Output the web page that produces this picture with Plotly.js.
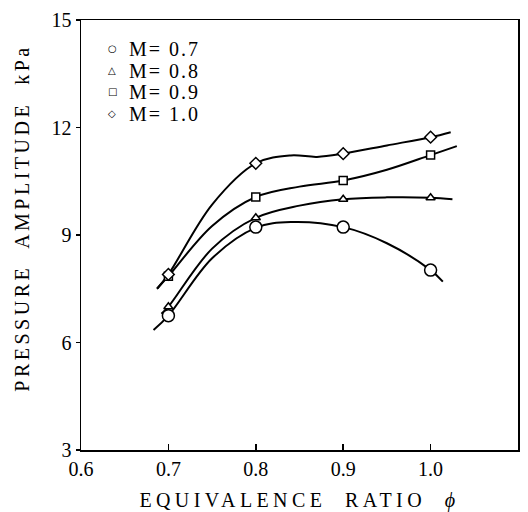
<!DOCTYPE html>
<html>
<head>
<meta charset="utf-8">
<script src="https://cdn.plot.ly/plotly-3.0.1.min.js"></script>
<style>html,body{margin:0;padding:0;background:#fff}#chart{width:528px;height:512px}</style>
</head>
<body>
<div id="chart"></div>
<script>
// Measured points
const phi = [0.7, 0.8, 0.9, 1.0];
const ampM07 = [6.75, 9.22, 9.22, 8.02];
const ampM08 = [7.0, 9.48, 10.0, 10.04];
const ampM09 = [7.85, 10.06, 10.52, 11.23];
const ampM10 = [7.9, 11.0, 11.27, 11.73];
const seriesNames = ['M= 0.7', 'M= 0.8', 'M= 0.9', 'M= 1.0'];
const legendGlyphs = ['○', '△', '□', '◇'];

// Hand-drawn fitted curves
const curvePhiM07 = [0.683, 0.7, 0.75, 0.8, 0.84, 0.9, 0.95, 1.0, 1.014];
const curveAmpM07 = [6.35, 6.75, 8.35, 9.2, 9.36, 9.22, 8.77, 8.02, 7.7];
const curvePhiM08 = [0.692, 0.7, 0.75, 0.8, 0.85, 0.9, 0.95, 1.0, 1.025];
const curveAmpM08 = [6.8, 7.0, 8.62, 9.48, 9.82, 10.0, 10.05, 10.04, 10.0];
const curvePhiM09 = [0.687, 0.7, 0.75, 0.8, 0.85, 0.9, 0.95, 1.0, 1.03];
const curveAmpM09 = [7.5, 7.85, 9.25, 10.06, 10.35, 10.52, 10.82, 11.23, 11.48];
const curvePhiM10 = [0.687, 0.7, 0.75, 0.8, 0.84, 0.87, 0.9, 0.95, 1.0, 1.023];
const curveAmpM10 = [7.5, 7.9, 9.85, 11.0, 11.22, 11.18, 11.27, 11.5, 11.73, 11.87];

const xTicks = [0.6, 0.7, 0.8, 0.9, 1.0, 1.1];
const xTickText = ['0.6', '0.7', '0.8', '0.9', '1.0', '1.1'];
const yTicks = [3, 6, 9, 12, 15];

const curves = [
  [curvePhiM07, curveAmpM07], [curvePhiM08, curveAmpM08],
  [curvePhiM09, curveAmpM09], [curvePhiM10, curveAmpM10]
];
const pts = [ampM07, ampM08, ampM09, ampM10];
const symbols = ['circle', 'triangle-up', 'square', 'diamond'];
const sizes = [12, 8, 8, 9];

const traces = [];
curves.forEach(function (c) {
  traces.push({
    x: c[0], y: c[1], mode: 'lines', type: 'scatter', showlegend: false,
    line: {color: '#000', width: 2, shape: 'spline', smoothing: 1.0},
    hoverinfo: 'skip'
  });
});
pts.forEach(function (p, i) {
  traces.push({
    x: phi, y: p, mode: 'markers', type: 'scatter', name: seriesNames[i], showlegend: false,
    marker: {symbol: symbols[i], size: sizes[i], color: '#fff', line: {color: '#000', width: 1.5}}
  });
});

const serif = '"Liberation Serif", "DejaVu Serif", serif';
const font = {family: serif, color: '#000'};

// Legend drawn as text rows
const legendRowsY = [0.9326, 0.8814, 0.8326, 0.7814];
const annotations = [];
seriesNames.forEach(function (n, i) {
  annotations.push({
    xref: 'paper', yref: 'paper', x: 0.071, y: legendRowsY[i], xanchor: 'center', yanchor: 'middle',
    text: legendGlyphs[i], showarrow: false,
    font: {family: '"DejaVu Sans", sans-serif', size: 10, color: '#000'}
  });
  annotations.push({
    xref: 'paper', yref: 'paper', x: 0.105, y: legendRowsY[i], xanchor: 'left', yanchor: 'middle',
    text: '<span style="letter-spacing:2px">' + n + '</span>', showarrow: false,
    font: Object.assign({}, font, {size: 20})
  });
});

const layout = {
  width: 528, height: 512,
  margin: {l: 81, r: 10, t: 20, b: 62},
  paper_bgcolor: '#fff', plot_bgcolor: '#fff',
  showlegend: false,
  annotations: annotations,
  xaxis: {
    range: [0.6, 1.1], tickvals: xTicks, ticktext: xTickText,
    showgrid: false, zeroline: false,
    showline: true, linecolor: '#000', linewidth: 1.5, mirror: true,
    ticks: 'inside', ticklen: 6, tickcolor: '#000', tickwidth: 1.5,
    tickfont: Object.assign({}, font, {size: 20}),
    title: {text: '<span style="letter-spacing:4.4px">EQUIVALENCE  RATIO  <i>ϕ</i></span>', font: Object.assign({}, font, {size: 20}), standoff: 16}
  },
  yaxis: {
    range: [3, 15], tickvals: yTicks,
    showgrid: false, zeroline: false,
    showline: true, linecolor: '#000', linewidth: 1.5, mirror: true,
    ticks: 'outside', ticklen: 4, tickcolor: '#000', tickwidth: 1.5,
    tickfont: Object.assign({}, font, {size: 20}),
    title: {text: '<span style="letter-spacing:3.5px">&nbsp;&nbsp;&nbsp;&nbsp;PRESSURE  AMPLITUDE  kPa</span>', font: Object.assign({}, font, {size: 20}), standoff: 16}
  }
};

Plotly.newPlot('chart', traces, layout, {displayModeBar: false, staticPlot: true});
</script>
</body>
</html>
